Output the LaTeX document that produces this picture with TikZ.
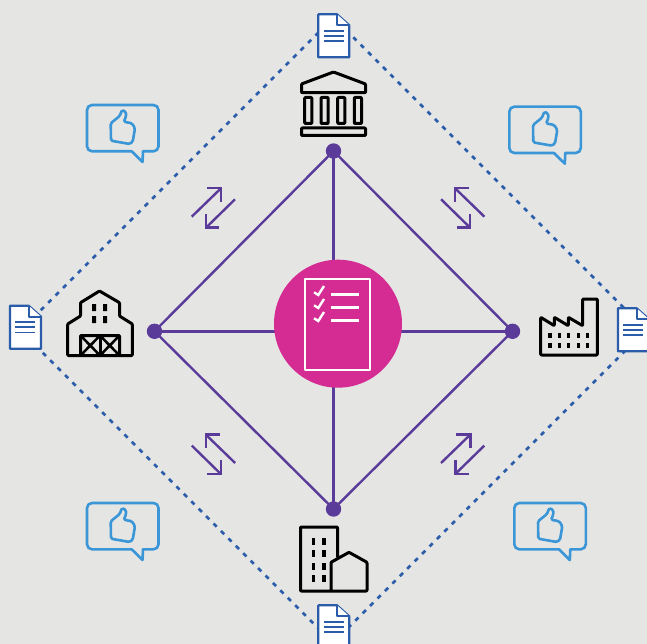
\documentclass[tikz,border=0pt]{standalone}
\definecolor{bgc}{HTML}{E5E5E4}
\definecolor{purp}{HTML}{5B3B9A}
\definecolor{magen}{HTML}{D42C93}
\definecolor{docb}{HTML}{2A5CAA}
\definecolor{bubb}{HTML}{3A96D6}
\tikzset{
  x=1pt,y=-1pt,
  dotnode/.style={circle,fill=purp,inner sep=0pt,minimum size=15.4pt},
  hubnode/.style={circle,fill=magen,inner sep=0pt,minimum size=128pt},
  linkline/.style={draw=purp,line width=2.4pt},
  dashline/.style={draw=docb,line width=2.5pt,dash pattern=on 4.5pt off 6pt},
  swapline/.style={draw=purp,line width=2.4pt},
  bubbleline/.style={draw=bubb,line width=2.6pt,line join=round,line cap=round},
  docline/.style={draw=docb,line width=2.2pt,line join=round},
  iconline/.style={draw=black,line width=3pt,line join=round,rounded corners=0.8pt},
  listline/.style={draw=white,line width=2.5pt},
  swapicon/.pic={
    \draw[swapline] (-21.7,8.7) -- (7.6,-19.7);
    \draw[swapline] (-6.7,-19.7) -- (7.6,-19.7) -- (7.6,-6.3);
    \draw[swapline] (21.6,-8.7) -- (-7.4,19.7);
    \draw[swapline] (-7.4,5.9) -- (-7.4,19.7) -- (6,19.7);
  },
  bubbleicon/.pic={
    \draw[bubbleline,rounded corners=5pt] (44.7,46.3) -- (0,46.3) -- (0,0) -- (71.5,0) -- (71.5,46.3) -- (56,46.3);
    \draw[bubbleline] (44.7,46.3) -- (55.5,57) -- (56,46.3);
    \draw[bubbleline,rounded corners=1.5pt,fill=none] (24,35.7) -- (23.7,18.3) -- (32.7,11) -- (35,5) -- (39,7) -- (39,11.7) -- (36.7,16.7) -- (45,18.3) -- (48,23.3) -- (45.7,36.7) -- (42.7,39) -- cycle;
  },
  docicon/.pic={
    \draw[docline,fill=white] (0,0) -- (18.7,0) -- (31,11) -- (31,43) -- (0,43) -- cycle;
    \draw[docline,fill=white] (18.7,0) -- (18.7,11) -- (31,11);
    \draw[docb,line width=1.9pt] (5.3,16.3) -- (25.3,16.3) (5.3,21.5) -- (25.3,21.5) (5.3,26.8) -- (25.3,26.8);
  },
}
\begin{document}
\begin{tikzpicture}
\fill[bgc] (0,0) rectangle (647,644);
\clip (0,0) rectangle (647,644);
\useasboundingbox (0,0) rectangle (647,644);

% outer dotted diamond
\coordinate (dt) at (333.5,17.5);
\coordinate (dl) at (20.5,330.5);
\coordinate (db) at (333,643);
\coordinate (dr) at (646,330);
\draw[dashline] (dt) -- (dl);
\draw[dashline] (dl) -- (db);
\draw[dashline] (db) -- (dr);
\draw[dashline] (dr) -- (dt);

% inner network
\node[dotnode] (ntop) at (333.5,151) {};
\node[dotnode] (nleft) at (154.5,331.3) {};
\node[dotnode] (nright) at (512.5,331.3) {};
\node[dotnode] (nbot) at (333.5,509) {};
\draw[linkline] (ntop.center) -- (nleft.center);
\draw[linkline] (nleft.center) -- (nbot.center);
\draw[linkline] (nbot.center) -- (nright.center);
\draw[linkline] (nright.center) -- (ntop.center);
\draw[linkline] (ntop.center) -- (nbot.center);
\draw[linkline] (nleft.center) -- (nright.center);
\node[hubnode] (hub) at (338,323.7) {};

% checklist
\draw[listline,line join=round] (305.2,279.2) rectangle (369.8,370.2);
\draw[listline] (331,294.3) -- (359,294.3) (331,307.3) -- (359,307.3) (331,320.3) -- (359,320.3);
\foreach \dy in {0,13,26}
  \draw[draw=white,line width=2.4pt] (314,292.3+\dy) -- (318.3,295+\dy) -- (324,286+\dy);

% documents
\pic at (318.3,14.3) {docicon};
\pic at (10,305.7) {docicon};
\pic at (618,308.3) {docicon};
\pic at (318.3,605.3) {docicon};

% bubbles
\pic at (87,105) {bubbleicon};
\pic at (509.3,106.7) {bubbleicon};
\pic at (514.3,503) {bubbleicon};
\pic at (87,503) {bubbleicon};

% swap arrows
\pic at (213.4,208) {swapicon};
\pic[xscale=-1] at (462.7,208) {swapicon};
\pic[xscale=-1] at (213.4,454.3) {swapicon};
\pic at (462.7,454.3) {swapicon};

% bank
\draw[iconline] (301.5,92.7) -- (301.5,84) -- (333.5,72) -- (365.5,84) -- (365.5,92.7) -- cycle;
\foreach \cx in {304.7,321,337.7,354.3}
  \draw[iconline] (\cx,97.5) rectangle (\cx+7.2,123.5);
\draw[iconline] (301.5,128) rectangle (365.5,135.5);

% barn
\draw[iconline] (67.7,355.5) -- (67.7,324) -- (80.5,316) -- (80.5,302.7) -- (99.5,291) -- (119.5,302.7) -- (119.5,316) -- (132.3,324) -- (132.3,355.5) -- cycle;
\draw[iconline] (80.5,355.5) -- (80.5,335.5) -- (119.5,335.5) -- (119.5,355.5);
\draw[draw=black,line width=3pt] (100,335.5) -- (100,355.5);
\draw[draw=black,line width=2.6pt] (80.5,335.5) -- (100,355.5) (100,335.5) -- (80.5,355.5) (100,335.5) -- (119.5,355.5) (119.5,335.5) -- (100,355.5);
\fill (92,304) rectangle (96,311) (103,304) rectangle (107,311) (92,316) rectangle (96,323) (103,316) rectangle (107,323);

% factory
\draw[iconline] (540.7,355) -- (540.7,317.3) -- (554.3,325.7) -- (554.3,317.3) -- (568.3,325.7) -- (568.3,317.3) -- (582.7,325.7) -- (582.7,299) -- (597.3,299) -- (597.3,355) -- cycle;
\foreach \wx in {550,559.3,568.7,578.3,587.7}{
  \fill (\wx-1.7,332.5) rectangle (\wx+1.7,337.5);
  \fill (\wx-1.7,343.3) rectangle (\wx+1.7,348.3);
}

% buildings
\draw[iconline] (337.5,557) -- (337.5,527) -- (300.5,527) -- (300.5,591) -- (367,591) -- (367,562.3) -- (349,552.3) -- (331,562.3) -- (331,591);
\foreach \wy in {538.3,550,563.3,575}{
  \fill (311.5,\wy) rectangle (314.8,\wy+6.7);
  \fill (322.4,\wy) rectangle (325.7,\wy+6.7);
}
\end{tikzpicture}
\end{document}
